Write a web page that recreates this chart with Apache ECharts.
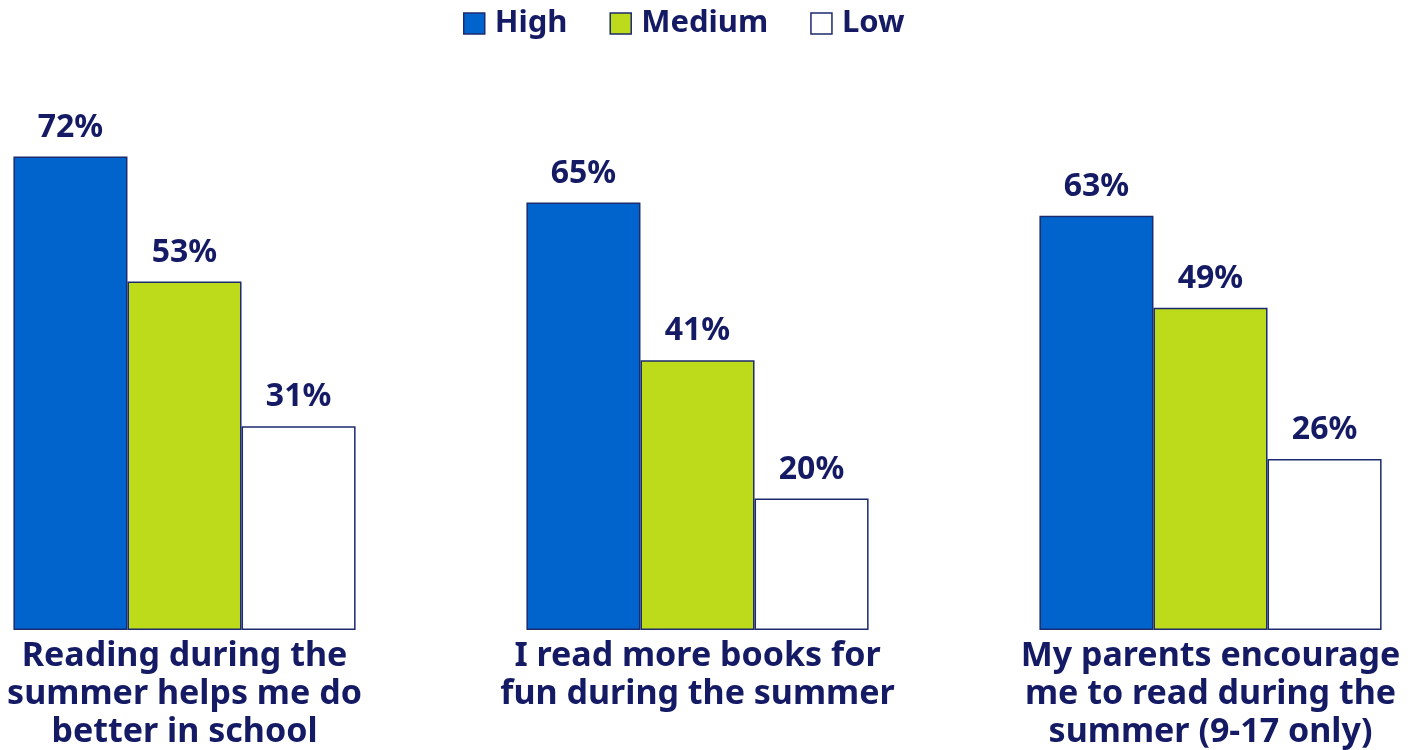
<!DOCTYPE html>
<html>
<head>
<meta charset="utf-8">
<script src="https://cdn.jsdelivr.net/npm/echarts@6/dist/echarts.min.js"></script>
<style>
  html, body { margin: 0; padding: 0; background: #ffffff; }
  #chart { width: 1420px; height: 750px; }
</style>
</head>
<body>
<div id="chart"></div>
<script>
// Survey statements (category axis)
const categories = [
  'Reading during the\nsummer helps me do\nbetter in school',
  'I read more books for\nfun during the summer',
  'My parents encourage\nme to read during the\nsummer (9-17 only)'
];
// Share agreeing, by reading-frequency group (%)
const highValues = [72, 65, 63];
const mediumValues = [53, 41, 49];
const lowValues = [31, 20, 26];

const NAVY = '#141a63';
const FONT = '"Noto Sans", "DejaVu Sans", sans-serif';

function barSeries(name, data, color) {
  return {
    name: name,
    type: 'bar',
    data: data,
    barGap: '0%',
    barCategoryGap: '33.3%',
    itemStyle: { color: color, borderColor: '#1c2a6e', borderWidth: 1.5 },
    label: {
      show: true,
      position: 'top',
      distance: 13,
      formatter: '{c}%',
      color: NAVY,
      fontFamily: FONT,
      fontWeight: 'bold',
      fontSize: 32
    }
  };
}

const legendIcon = { borderColor: '#1c2a6e', borderWidth: 1.5 };

const chart = echarts.init(document.getElementById('chart'));
chart.setOption({
  animation: false,
  backgroundColor: '#ffffff',
  legend: {
    top: 3,
    left: 458,
    itemWidth: 21,
    itemHeight: 21,
    itemGap: 42,
    textStyle: { color: NAVY, fontFamily: FONT, fontWeight: 'bold', fontSize: 31, padding: [0, 0, 0, 5] },
    data: [
      { name: 'High', icon: 'rect', itemStyle: legendIcon },
      { name: 'Medium', icon: 'rect', itemStyle: legendIcon },
      { name: 'Low', icon: 'rect', itemStyle: legendIcon }
    ]
  },
  grid: { left: -72, right: -47, top: 71, bottom: 120, containLabel: false, outerBoundsMode: 'none' },
  xAxis: {
    type: 'category',
    data: categories,
    axisLine: { show: false },
    axisTick: { show: false },
    axisLabel: {
      interval: 0,
      margin: 7,
      color: NAVY,
      fontFamily: FONT,
      fontWeight: 'bold',
      fontSize: 34,
      lineHeight: 38,
      align: 'center'
    }
  },
  yAxis: {
    type: 'value',
    min: 0,
    max: 85,
    show: false,
    splitLine: { show: false }
  },
  series: [
    barSeries('High', highValues, '#0064cc'),
    barSeries('Medium', mediumValues, '#bddb1b'),
    barSeries('Low', lowValues, '#ffffff')
  ]
});
</script>
</body>
</html>
